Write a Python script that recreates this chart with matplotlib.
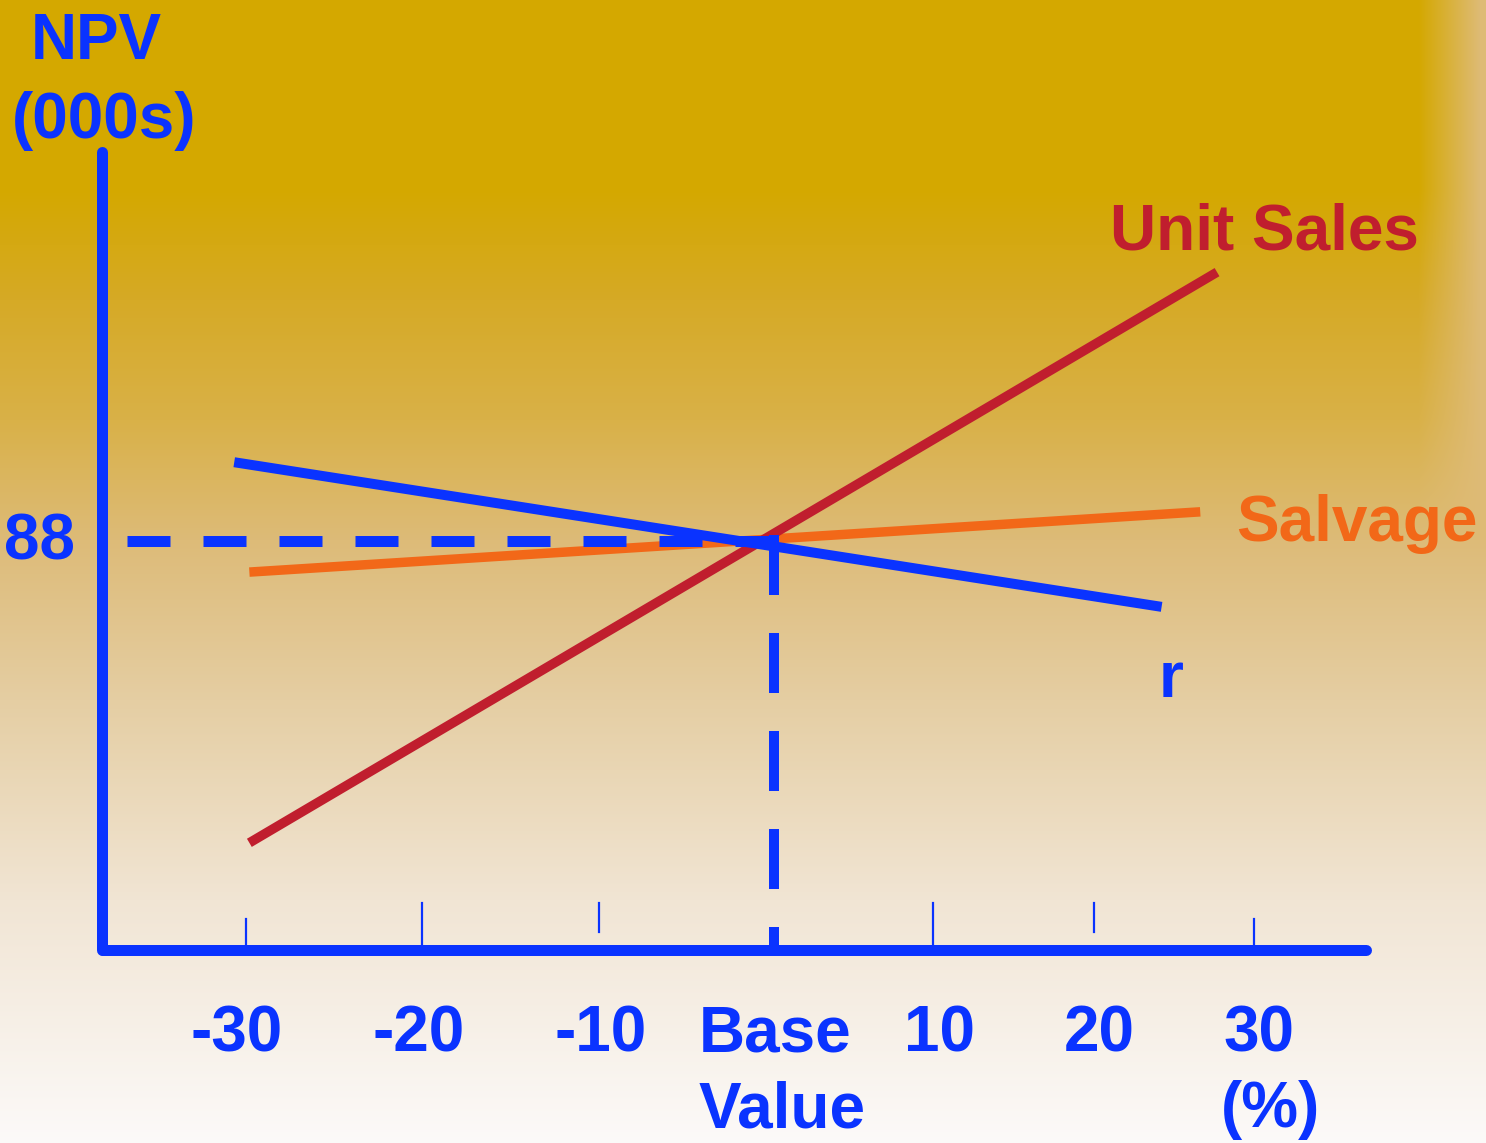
import numpy as np
import matplotlib
matplotlib.use("Agg")
import matplotlib.pyplot as plt

plt.rcParams["font.family"] = ["Liberation Sans", "DejaVu Sans"]
plt.rcParams["font.weight"] = "bold"

# --- data (NPV in thousands vs % change from base value) ---
pct_ticks = [-30, -19.5, -9.0, 1.4, 10.9, 20.5, 30]
tick_labels = ["-30", "-20", "-10", "Base", "10", "20", "30"]
tick_labels2 = ["", "", "", "Value", "", "", "(%)"]

base_x = 1.4
base_npv = 88

unit_sales_x = [-29.8, 27.8]
unit_sales_npv = [22.9, 146.0]
r_x = [-30.7, 24.5]
r_npv = [105.0, 73.8]
salvage_x = [-29.8, 26.8]
salvage_npv = [81.3, 94.3]

BLUE = "#0A33FF"
RED = "#C01E2E"
ORANGE = "#F26818"

W, H = 1486, 1143
# pixel anchors for the hand-drawn axes
X0, SX = 750.0, 16.8     # px of 0%, px per %
Y0, SY = 949.0, 4.636    # px of NPV 0, px per 1000


def dx(px):
    return (px - X0) / SX


def dy(py):
    return (Y0 - py) / SY


def px_lw(p):
    return p * 0.72


fig = plt.figure(figsize=(W / 100, H / 100), dpi=100)
ax = fig.add_axes([0, 0, 1, 1])
ax.set_xlim(dx(0), dx(W))
ax.set_ylim(dy(H), dy(0))
ax.axis("off")

# background: gold fading to white, light edge on the right
stops_y = [0, 190, 300, 420, 540, 700, 900, H]
stops_c = [(212, 168, 0), (212, 168, 0), (214, 170, 38), (217, 177, 72),
           (221, 187, 120), (229, 206, 163), (241, 229, 212), (252, 250, 249)]
yy = np.arange(H)
col = np.stack([np.interp(yy, stops_y, [c[i] for c in stops_c]) for i in range(3)], axis=1)
img = np.repeat(col[:, None, :], W, axis=1)
edge = np.clip((np.arange(W) - 1418) / 62.0, 0, 1)[None, :, None]
target = np.maximum(col, np.array([222, 187, 118]))[:, None, :]
img = img + edge * (target - img)
ax.imshow(img / 255.0, extent=(0, 1, 0, 1), transform=ax.transAxes,
          aspect="auto", zorder=0)

# axes lines
ax.plot([dx(102), dx(102)], [dy(949.5), dy(152)], color=BLUE, lw=px_lw(11),
        solid_capstyle="round", zorder=3)
ax.plot([dx(103), dx(1366)], [dy(949.5), dy(949.5)], color=BLUE, lw=px_lw(11),
        solid_capstyle="round", zorder=3)

# tick marks (hand-drawn lengths)
tick_top = [919, 903, 903, 903, 903, 903, 919]
tick_bot = [944, 944, 932, 944, 944, 932, 944]
for i, t in enumerate(pct_ticks):
    if tick_labels[i] == "Base":
        continue
    ax.plot([t, t], [dy(tick_bot[i]), dy(tick_top[i])], color=BLUE,
            lw=px_lw(2.2), zorder=3)

# tick labels
off1 = [-9, -4, 2, 2, 6, 5, 5]
off2 = [0, 0, 0, 9, 0, 0, 17]
for i, t in enumerate(pct_ticks):
    ax.text(t + off1[i] / SX, dy(1051), tick_labels[i], color=BLUE, fontsize=46,
            ha="center", va="baseline", zorder=5)
    if tick_labels2[i]:
        ax.text(t + off2[i] / SX, dy(1127), tick_labels2[i], color=BLUE,
                fontsize=46, ha="center", va="baseline", zorder=5)

# sensitivity lines
ax.plot(salvage_x, salvage_npv, color=ORANGE, lw=px_lw(9.5),
        solid_capstyle="butt", zorder=4)
ax.plot(unit_sales_x, unit_sales_npv, color=RED, lw=px_lw(9.5),
        solid_capstyle="butt", zorder=5)
ax.plot(r_x, r_npv, color=BLUE, lw=px_lw(10),
        solid_capstyle="butt", zorder=6)

# base value guides
ax.plot([dx(127), base_x + 5 / SX], [base_npv, base_npv], color=BLUE,
        lw=px_lw(11), dashes=(43 / 11, 33 / 11), dash_capstyle="butt", zorder=7)
ax.plot([base_x, base_x], [base_npv + 6 / SY, dy(945)], color=BLUE,
        lw=px_lw(10), dashes=(6.0, 3.8), dash_capstyle="butt", zorder=7)

# labels
ax.text(dx(96), dy(59), "NPV", color=BLUE, fontsize=46, ha="center", va="baseline")
ax.text(dx(104), dy(138), "(000s)", color=BLUE, fontsize=46, ha="center", va="baseline")
ax.text(dx(40), dy(560), str(base_npv), color=BLUE, fontsize=46, ha="center", va="baseline")
ax.text(dx(1110), dy(250), "Unit Sales", color=RED, fontsize=46, ha="left", va="baseline")
ax.text(dx(1236), dy(541), "Salvage", color=ORANGE, fontsize=46, ha="left", va="baseline")
ax.text(dx(1171), dy(697), "r", color=BLUE, fontsize=46, ha="center", va="baseline")

fig.savefig("out.png", dpi=100)
